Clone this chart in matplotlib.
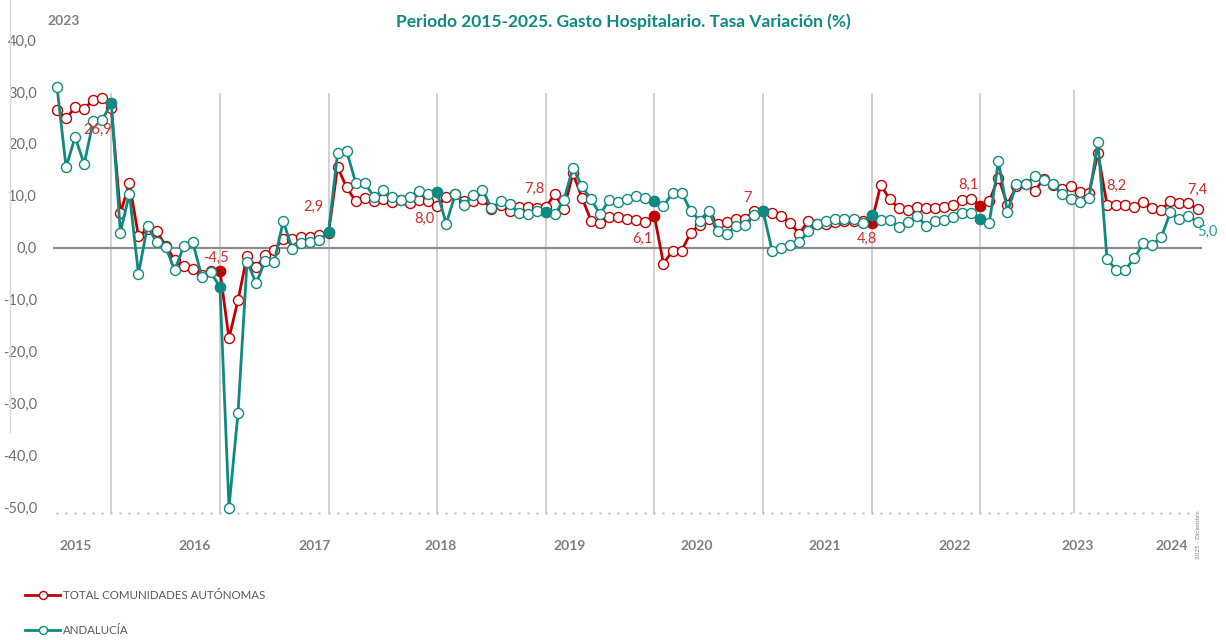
import numpy as np
import matplotlib
matplotlib.use("Agg")
import matplotlib.pyplot as plt
from matplotlib.lines import Line2D

plt.rcParams['font.family'] = ['Lato', 'DejaVu Sans']

# tasa de variacion mensual (%), jun 2015 - dic 2025
total = [26.5, 24.9, 27.0, 26.7, 28.5, 28.9, 26.9, 6.6, 12.4, 2.2,
         3.5, 3.1, 0.4, -2.4, -3.5, -4.2, -5.3, -4.6, -4.5, -17.5,
         -10.1, -1.6, -3.8, -1.5, -0.4, 1.7, 1.6, 2.1, 2.1, 2.4,
         2.9, 15.5, 11.6, 8.9, 9.6, 9.0, 9.3, 8.7, 9.2, 8.5,
         9.2, 8.9, 8.0, 9.7, 10.3, 9.0, 9.0, 9.3, 7.4, 8.2,
         7.1, 7.9, 7.9, 7.7, 7.8, 10.3, 7.4, 14.3, 9.6, 5.2,
         4.8, 5.8, 5.8, 5.5, 5.3, 5.0, 6.1, -3.1, -0.6, -0.6,
         2.8, 4.4, 5.5, 4.6, 5.0, 5.5, 5.5, 7.1, 7.0, 6.7,
         6.1, 4.8, 2.6, 5.2, 4.5, 4.6, 5.0, 5.2, 5.2, 5.2,
         4.8, 12.1, 9.3, 7.6, 7.3, 7.9, 7.6, 7.6, 7.9, 8.2,
         9.1, 9.4, 8.1, 8.9, 13.5, 8.3, 11.8, 12.2, 10.9, 13.2,
         12.1, 11.2, 11.8, 10.8, 10.5, 18.2, 8.3, 8.3, 8.3, 7.8,
         8.7, 7.6, 7.3, 8.9, 8.5, 8.5, 7.4]
andalucia = [31.0, 15.5, 21.3, 16.1, 24.3, 24.6, 27.9, 2.9, 10.4, -5.1,
             4.2, 1.0, 0.2, -4.4, 0.3, 1.0, -5.6, -4.8, -7.6, -50.1,
             -31.8, -2.7, -6.9, -2.5, -2.7, 5.1, -0.3, 0.8, 1.0, 1.5,
             3.0, 18.3, 18.6, 12.5, 12.5, 9.8, 11.0, 9.8, 9.2, 9.8,
             10.9, 10.3, 10.7, 4.6, 10.3, 8.3, 10.1, 11.1, 7.6, 8.9,
             8.4, 6.7, 6.4, 7.1, 6.9, 6.4, 9.2, 15.4, 11.8, 9.3,
             6.4, 9.2, 8.7, 9.3, 10.0, 9.6, 8.9, 8.0, 10.6, 10.6,
             7.1, 5.2, 7.1, 3.1, 2.6, 4.2, 4.4, 6.3, 7.1, -0.6,
             -0.1, 0.5, 1.0, 3.1, 4.6, 5.2, 5.5, 5.5, 5.5, 4.7,
             6.2, 5.3, 5.3, 4.0, 5.0, 6.1, 4.2, 5.1, 5.3, 5.8,
             6.7, 6.7, 5.5, 4.8, 16.6, 6.9, 12.2, 12.2, 13.7, 13.0,
             12.3, 10.3, 9.3, 8.7, 9.5, 20.4, -2.2, -4.3, -4.3, -2.1,
             0.8, 0.5, 2.0, 6.8, 5.5, 6.0, 5.0]

years = ['2015', '2016', '2017', '2018', '2019', '2020', '2021', '2022', '2023', '2024']
year_pos = [2.0, 15.2, 28.5, 42.4, 56.6, 70.7, 84.8, 99.2, 112.8, 123.2]
dec_idx = [6, 18, 30, 42, 54, 66, 78, 90, 102]
red_filled = [18, 66, 90, 102]
vlines_pos = [6, 18, 30, 42, 54, 66, 78, 90, 102, 112.35]

# etiquetas: (indice, serie, texto, dx px, dy px)
labels = [(6, 'T', '26,9', -14, -22), (18, 'T', '-4,5', -4, 13),
          (30, 'T', '2,9', -15, 26), (42, 'T', '8,0', -13, -13),
          (54, 'T', '7,8', -11, 18), (66, 'T', '6,1', -12, -23),
          (78, 'T', '7', -16, 13), (90, 'T', '4,8', -5, -16),
          (102, 'T', '8,1', -12, 21), (116, 'T', '8,2', 9, 19),
          (126, 'T', '7,4', 0, 19), (126, 'A', '5,0', 10, -10)]

RED = '#C00000'
TEAL = '#0E8A80'
GREY = '#7F7F7F'

x = np.arange(len(total))
total = np.array(total)
andalucia = np.array(andalucia)

fig = plt.figure(figsize=(12.26, 6.40), dpi=100)
ax = fig.add_axes([48 / 1226, 1 - 520 / 640, (1212 - 48) / 1226, 490 / 640])
ax.set_xlim(-0.994, 127.6)
ax.set_ylim(-52.5, 41.93)

ax.vlines(vlines_pos[:-1], -51.1, 29.8, color='#C9C9C9', lw=1.2, zorder=1)
ax.vlines(vlines_pos[-1:], -51.1, 30.4, color='#C9C9C9', lw=1.2, zorder=1)
ax.hlines(0, -0.45, 126.5, color='#8C8C8C', lw=1.6, zorder=1)
ax.plot(x[:-1], np.full(len(x) - 1, -51.1), ls='none', marker='s', ms=1.4,
        color='#B5B5B5', mec='none', zorder=1)

ax.plot(x, total, color=RED, lw=2.0, marker='o', ms=7.2, mfc='white',
        mec=RED, mew=1.0, zorder=3, label='TOTAL COMUNIDADES AUTÓNOMAS')
ax.plot(x, andalucia, color=TEAL, lw=2.0, marker='o', ms=7.2, mfc='white',
        mec=TEAL, mew=1.0, zorder=4, label='ANDALUCÍA')
ax.plot(x[red_filled], total[red_filled], 'o', ms=7.2, color=RED, zorder=3.5)
ax.plot(x[dec_idx], andalucia[dec_idx], 'o', ms=7.2, color=TEAL, zorder=4.5)

for i, s, t, dx, dy in labels:
    y = total[i] if s == 'T' else andalucia[i]
    c = '#D02D2D' if s == 'T' else '#2A9D93'
    ax.annotate(t, (i, y), xytext=(dx, dy), textcoords='offset pixels',
                ha='center', va='center', fontsize=10.5, color=c, zorder=6)

ax.set_yticks(np.arange(-50, 41, 10))
ax.set_yticklabels([f'{v:.1f}'.replace('.', ',') for v in np.arange(-50, 41, 10)])
ax.tick_params(axis='y', length=0, pad=8, labelsize=10.5, labelcolor='#6E6E6E')
ax.set_xticks([])
for sp in ax.spines.values():
    sp.set_visible(False)

for yr, p in zip(years, year_pos):
    ax.text(p, -57.6, yr, ha='center', va='center', fontsize=10,
            fontweight='bold', color=GREY)

fig.text(623 / 1226, 1 - 22 / 640, 'Periodo 2015-2025. Gasto Hospitalario. Tasa Variación (%)',
         ha='center', va='center', fontsize=12.5, fontweight='bold', color=TEAL)
fig.text(47 / 1226, 1 - 21 / 640, '2023', ha='left', va='center', fontsize=10,
         fontweight='bold', color=GREY)
fig.text(1198 / 1226, 1 - 535 / 640, '2025 - Diciembre', rotation=90, ha='center',
         va='center', fontsize=4.5, color=GREY)
fig.add_artist(Line2D([10 / 1226, 10 / 1226], [1.0, 1 - 432 / 640],
                      color='#D9D9D9', lw=1.0, transform=fig.transFigure))

fig.legend(loc='upper left', bbox_to_anchor=(25 / 1226, 1 - 590 / 640),
           frameon=False, fontsize=8.3, labelcolor='#595959', handlelength=3.05,
           handletextpad=0.25, labelspacing=2.05, borderpad=0, borderaxespad=0,
           numpoints=1, markerscale=0.8)

fig.savefig('out.png', dpi=100)
